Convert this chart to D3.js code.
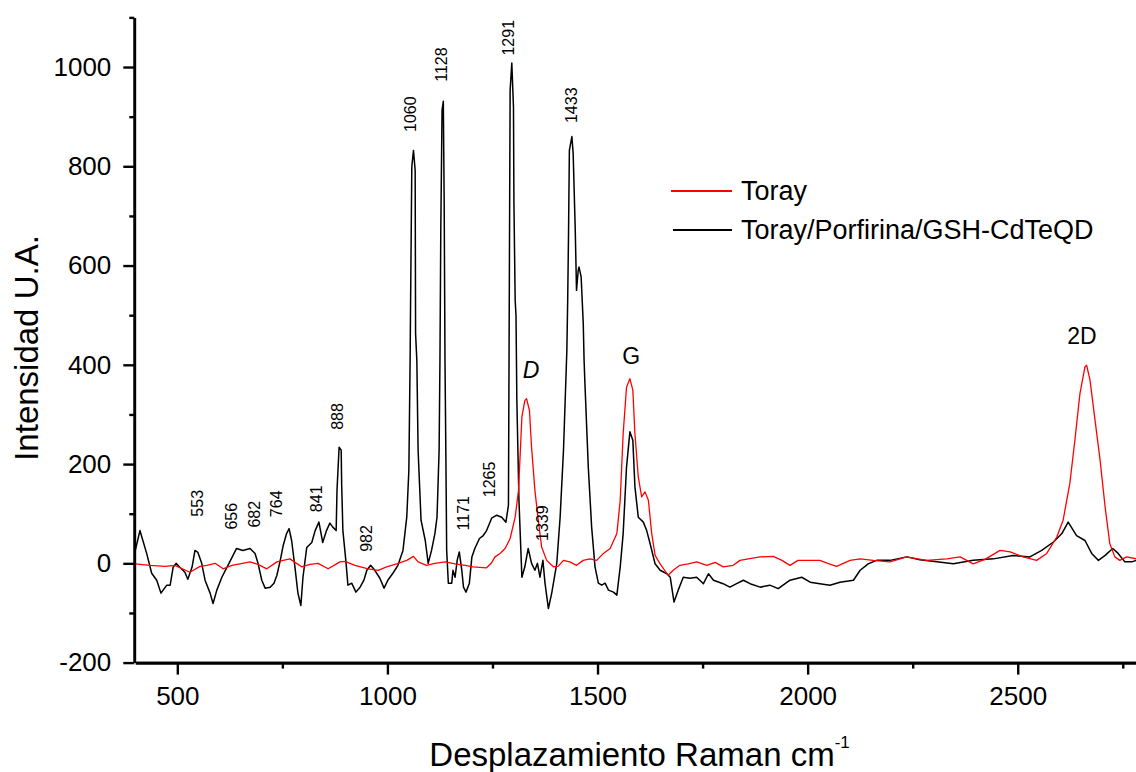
<!DOCTYPE html>
<html>
<head>
<meta charset="utf-8">
<script src="https://cdn.jsdelivr.net/npm/d3@7"></script>
<style>
  html, body { margin: 0; padding: 0; background: #fff; overflow: hidden; }
  svg { display: block; }
  text { font-family: "Liberation Sans", Arial, Helvetica, sans-serif; fill: #000; }
</style>
</head>
<body>
<svg id="chart" width="1136" height="772"></svg>
<script>
// Raman shift (cm-1) and intensity (a.u.) of the bare Toray carbon paper
const torayShift = [400, 435, 471, 494, 530, 554, 570, 590, 609, 630, 649, 673, 692, 713, 737, 752, 768, 780, 796, 816,
  835, 859, 887, 899, 923, 954, 978, 998, 1022, 1046, 1062, 1073, 1093, 1113, 1137, 1161, 1185, 1204, 1236, 1247,
  1256, 1268, 1280, 1292, 1304, 1312, 1320, 1327, 1331, 1338, 1343, 1351, 1359, 1367, 1379, 1395, 1406, 1419, 1434, 1450,
  1466, 1482, 1498, 1514, 1530, 1546, 1554, 1561, 1569, 1577, 1584, 1589, 1597, 1605, 1613, 1621, 1629, 1637, 1649, 1668,
  1680, 1696, 1716, 1736, 1760, 1780, 1799, 1823, 1839, 1859, 1887, 1918, 1939, 1958, 1977, 1998, 2029, 2048, 2069, 2101,
  2125, 2156, 2196, 2236, 2283, 2331, 2363, 2394, 2422, 2458, 2482, 2513, 2545, 2569, 2593, 2608, 2624, 2636, 2648, 2660,
  2664, 2672, 2684, 2696, 2708, 2719, 2731, 2743, 2759, 2783];
const torayIntensity = [-1, -4, -6, -4, -18, -6, -4, 0, -11, -4, -1, 3, -2, -11, 3, 6, 9, 2, -7, -2,
  0, -11, 3, 4, -4, -11, -14, -7, -1, 6, 14, 3, -4, 0, 3, -1, -4, -7, -9, 0,
  13, 20, 30, 50, 93, 147, 295, 328, 332, 308, 234, 147, 87, 33, 6, -7, -6, 6, 3, -4,
  6, 9, 6, 20, 30, 60, 127, 261, 355, 372, 349, 261, 174, 134, 144, 127, 60, 16, -1, -24,
  -14, -4, -1, 3, -4, 2, -7, -4, 6, 9, 13, 14, 6, -4, 6, 6, 6, 0, -6, 6,
  9, 6, 3, 13, 6, 9, 13, -1, 8, 26, 23, 13, 6, 20, 53, 87, 161, 248, 342, 396,
  399, 369, 288, 208, 113, 40, 13, 6, 13, 9];

// Raman shift (cm-1) and intensity (a.u.) of Toray / porphyrin / GSH-CdTe quantum dots
const hybridShift = [400, 411, 427, 439, 451, 461, 475, 483, 490, 497, 506, 518, 525, 535, 542, 549, 558, 566, 578, 585,
  594, 606, 618, 629, 641, 656, 673, 685, 692, 701, 709, 721, 730, 737, 745, 752, 760, 766, 772, 780,
  787, 794, 799, 808, 820, 828, 837, 846, 855, 863, 870, 878, 880, 885, 890, 891, 894, 901, 906, 915,
  925, 935, 944, 951, 960, 970, 982, 992, 1001, 1013, 1025, 1037, 1046, 1051, 1054, 1055, 1058, 1062, 1066, 1067,
  1070, 1073, 1080, 1090, 1097, 1105, 1113, 1118, 1123, 1125, 1127, 1130, 1133, 1135, 1137, 1139, 1141, 1145, 1153, 1156,
  1161, 1166, 1171, 1177, 1181, 1187, 1195, 1201, 1208, 1219, 1228, 1236, 1248, 1260, 1272, 1282, 1288, 1289, 1292, 1296,
  1300, 1301, 1304, 1306, 1308, 1313, 1320, 1327, 1335, 1343, 1351, 1357, 1363, 1370, 1375, 1383, 1391, 1403, 1411, 1419,
  1427, 1429, 1431, 1433, 1439, 1442, 1447, 1450, 1454, 1456, 1461, 1466, 1468, 1470, 1478, 1486, 1494, 1502, 1510, 1518,
  1526, 1538, 1546, 1554, 1561, 1569, 1577, 1584, 1589, 1597, 1609, 1617, 1625, 1637, 1649, 1665, 1673, 1682, 1692, 1704,
  1720, 1736, 1752, 1764, 1776, 1799, 1815, 1831, 1847, 1863, 1887, 1910, 1930, 1958, 1986, 2006, 2029, 2053, 2077, 2109,
  2125, 2144, 2164, 2196, 2236, 2267, 2307, 2347, 2394, 2442, 2489, 2529, 2557, 2585, 2605, 2620, 2640, 2660, 2676, 2692,
  2708, 2726, 2739, 2755, 2771, 2783];
const hybridIntensity = [26, 66, 20, -20, -34, -60, -44, -44, -8, 0, -8, -18, -32, -8, 26, 22, 0, -34, -60, -81,
  -54, -28, -8, 10, 30, 26, 30, 20, 0, -34, -50, -48, -40, -24, 6, 36, 60, 70, 46, -8,
  -60, -85, -28, 32, 42, 66, 83, 42, 66, 81, 73, 66, 147, 234, 228, 163, 66, 6, -44, -40,
  -58, -48, -34, -14, -4, -14, -30, -50, -34, -20, -4, 26, 93, 187, 409, 514, 799, 832, 792, 463,
  409, 228, 87, 46, 0, 26, 60, 93, 228, 409, 671, 913, 931, 735, 409, 228, 26, -40, -40, -14,
  -28, 6, 23, -14, -48, -58, -40, 13, 30, 50, 56, 66, 91, 97, 93, 83, 117, 328, 953, 1008,
  919, 731, 530, 500, 328, 127, -28, -7, 30, 0, -14, 0, -28, 6, -40, -91, -60, 0, 93, 228,
  429, 530, 665, 832, 860, 826, 671, 550, 590, 597, 577, 484, 409, 363, 194, 73, -7, -40, -44, -40,
  -54, -58, -64, -7, 60, 194, 265, 248, 154, 93, 83, 66, 40, -1, -14, -21, -28, -78, -54, -28,
  -30, -28, -41, -21, -34, -41, -48, -41, -34, -41, -48, -44, -51, -34, -28, -38, -41, -44, -38, -34,
  -14, -1, 6, 6, 13, 7, 3, -1, 6, 9, 16, 13, 26, 43, 60, 83, 56, 46, 20, 6,
  16, 30, 20, 3, 3, 6];

// Axis ticks
const xMajorTicks = [500, 1000, 1500, 2000, 2500];
const xMinorTicks = [750, 1250, 1750, 2250, 2750];
const yMajorTicks = [-200, 0, 200, 400, 600, 800, 1000];
const yMinorTicks = [-100, 100, 300, 500, 700, 900, 1100];

// Peak annotations (label, anchor shift, anchor intensity)
const peakNames = ["553", "656", "682", "764", "841", "888", "982", "1060", "1128", "1171", "1265", "1291", "1339", "1433"];
const peakAnchorX = [549, 628, 683, 737, 832, 881, 951, 1056, 1129, 1180, 1242, 1288, 1370, 1438];
const peakAnchorY = [121, 95, 99, 120, 130, 296, 50, 905, 1005, 101, 169, 1059, 81, 923];

// Carbon band annotations
const bandNames = ["D", "G", "2D"];
const bandAnchorX = [1342, 1580, 2653];
const bandAnchorY = [390, 417, 459];

// Legend
const seriesNames = ["Toray", "Toray/Porfirina/GSH-CdTeQD"];
const seriesColors = ["#ff0000", "#000000"];

const svg = d3.select("#chart");

const x = d3.scaleLinear().domain([400, 2800]).range([135.3, 1143.8]);
const y = d3.scaleLinear().domain([-200, 1100]).range([662.6, 17.4]);

// Spectra
const line = d3.line().x(d => x(d[0])).y(d => y(d[1]));
const hybrid = hybridShift.map((s, i) => [s, hybridIntensity[i]]);
const toray = torayShift.map((s, i) => [s, torayIntensity[i]]);

svg.append("path").datum(hybrid)
  .attr("d", line).attr("fill", "none")
  .attr("stroke", seriesColors[1]).attr("stroke-width", 1.5).attr("stroke-linejoin", "round");
svg.append("path").datum(toray)
  .attr("d", line).attr("fill", "none")
  .attr("stroke", seriesColors[0]).attr("stroke-width", 1.3).attr("stroke-linejoin", "round");

// Axes
const plain = d => String(d);
function styleAxis(g) {
  g.selectAll("path.domain").attr("stroke", "#000").attr("stroke-width", 2.6);
  g.selectAll(".tick line").attr("stroke", "#000").attr("stroke-width", 2.4);
  g.selectAll(".tick text").attr("font-size", 26).attr("fill", "#000")
    .attr("font-family", '"Liberation Sans", Arial, sans-serif');
}

const y0 = y(-200);
svg.append("g").attr("transform", `translate(0,${y0})`)
  .call(d3.axisBottom(x).tickValues(xMinorTicks).tickSize(6).tickSizeOuter(0).tickFormat(""))
  .call(styleAxis);
svg.append("g").attr("transform", `translate(0,${y0})`)
  .call(d3.axisBottom(x).tickValues(xMajorTicks).tickSize(12).tickSizeOuter(0).tickPadding(12).tickFormat(plain))
  .call(styleAxis);

const x0 = x(400) - 1;
svg.append("g").attr("transform", `translate(${x0},0)`)
  .call(d3.axisLeft(y).tickValues(yMinorTicks).tickSize(5).tickSizeOuter(0).tickFormat(""))
  .call(styleAxis);
svg.append("g").attr("transform", `translate(${x0},0)`)
  .call(d3.axisLeft(y).tickValues(yMajorTicks).tickSize(11).tickSizeOuter(0).tickPadding(12).tickFormat(plain))
  .call(styleAxis);

// Axis titles
svg.append("text")
  .attr("transform", `translate(38,${(y(-200) + y(1100)) / 2 + 8}) rotate(-90)`)
  .attr("text-anchor", "middle").attr("font-size", 33)
  .text("Intensidad U.A.");

const xt = svg.append("text")
  .attr("x", (x(400) + x(2800)) / 2).attr("y", 766)
  .attr("text-anchor", "middle").attr("font-size", 33);
xt.append("tspan").text("Desplazamiento Raman cm");
xt.append("tspan").attr("font-size", 17).attr("dy", -18).text("-1");

// Peak labels (vertical)
peakNames.forEach((name, i) => {
  svg.append("text")
    .attr("transform", `translate(${x(peakAnchorX[i])},${y(peakAnchorY[i])}) rotate(-90)`)
    .attr("text-anchor", "middle").attr("dominant-baseline", "central")
    .attr("font-size", 16)
    .text(name);
});

// Band labels
bandNames.forEach((name, i) => {
  svg.append("text")
    .attr("x", x(bandAnchorX[i])).attr("y", y(bandAnchorY[i]))
    .attr("text-anchor", "middle").attr("dominant-baseline", "central")
    .attr("font-size", 23)
    .attr("font-style", name === "D" ? "italic" : "normal")
    .text(name);
});

// Legend
const legendRows = [{ y: 191, x1: 671 }, { y: 230, x1: 673 }];
seriesNames.forEach((name, i) => {
  svg.append("line")
    .attr("x1", legendRows[i].x1).attr("x2", 732)
    .attr("y1", legendRows[i].y).attr("y2", legendRows[i].y)
    .attr("stroke", seriesColors[i]).attr("stroke-width", 2);
  svg.append("text")
    .attr("x", 741).attr("y", legendRows[i].y + 9)
    .attr("font-size", 27)
    .text(name);
});
</script>
</body>
</html>
